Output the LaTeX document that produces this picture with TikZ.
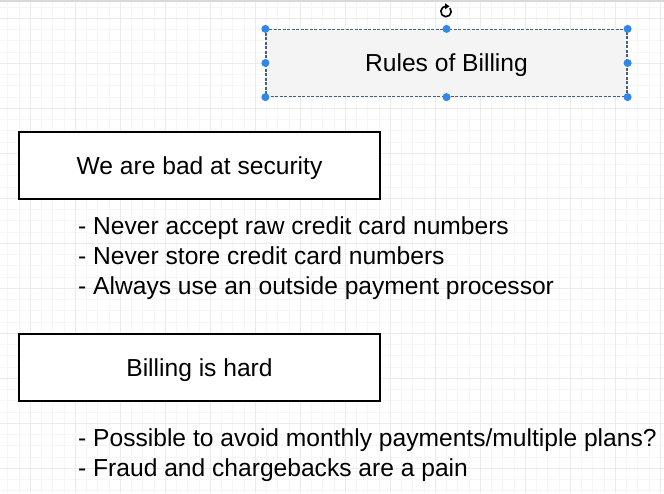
\documentclass[tikz,border=0pt]{standalone}
\usepackage{fontspec}
\setmainfont{Liberation Sans}
\usetikzlibrary{positioning, arrows.meta}

\definecolor{gridmajor}{HTML}{EBEBEB}
\definecolor{gridminor}{HTML}{F6F6F6}
\definecolor{handleblue}{HTML}{2F86EB}
\definecolor{selline}{HTML}{4A6078}
\definecolor{boxfill}{HTML}{F4F4F4}

\tikzset{
    box/.style = {draw = black, line width = 1.4pt, fill = white, inner sep = 0pt,
            minimum width = 361pt, minimum height = 67pt,
            text height = 20pt, text depth = 3pt,
            font = \fontsize{24.6}{30}\selectfont},
    item/.style = {anchor = base west, inner sep = 0pt,
            font = \fontsize{24.6}{30}\selectfont},
    handle/.style = {fill = handleblue},
}

\begin{document}
\begin{tikzpicture}[x = 1pt, y = -1pt]

        \useasboundingbox (0, 0) rectangle (664, 493);
        \fill[white] (0, 0) rectangle (664, 493);

        % grid
        \foreach \i in {0, 1, ..., 60} {
                \draw[gridminor, line width = 0.4pt] (-3.75 + 11.25 * \i, 0) -- (-3.75 + 11.25 * \i, 493);
            }
        \foreach \i in {0, 1, ..., 44} {
                \draw[gridminor, line width = 0.4pt] (0, 6.75 + 11.25 * \i) -- (664, 6.75 + 11.25 * \i);
            }
        \foreach \i in {0, 1, ..., 14} {
                \draw[gridmajor, line width = 0.8pt] (30 + 45 * \i, 0) -- (30 + 45 * \i, 493);
            }
        \foreach \i in {0, 1, ..., 10} {
                \draw[gridmajor, line width = 0.8pt] (0, 18 + 45 * \i) -- (664, 18 + 45 * \i);
            }
        \draw[gray!30, line width = 1.5pt] (0, 0.75) -- (664, 0.75);

        % selected title
        \node [box, fill = boxfill, draw = selline, line width = 1.2pt,
            dash pattern = on 3pt off 1.5pt] (rules) at (446.5, 63) {Rules of Billing};
        \foreach \a in {north west, north, north east, east, south east, south, south west, west} {
                \fill [handle] (rules.\a) circle (4);
            }
        \coordinate (rot) at (446, 11.5);
        \draw [line width = 1.6pt] (rot) ++(-40:5.2) arc (-40:265:5.2);
        \fill (445, 3.3) -- (449.5, 6.3) -- (445, 9.3) -- cycle;

        % first block
        \node [box] (security) at (199.5, 165.5) {We are bad at security};

        \foreach \t [count = \i] in {- Never accept raw credit card numbers,
                - Never store credit card numbers,
                - Always use an outside payment processor} {
                \node [item] (sec\i) at (78, 205 + 29.7 * \i) {\t};
            }

        % second block
        \node [box] (billing) at (199.5, 367.5) {Billing is hard};

        \node [item] (bill1) at (78, 446.7) {- Possible to avoid monthly payments/multiple plans?};
        \node [item] (bill2) at (78, 476.7) {- Fraud and chargebacks are a pain};

    \end{tikzpicture}
\end{document}
